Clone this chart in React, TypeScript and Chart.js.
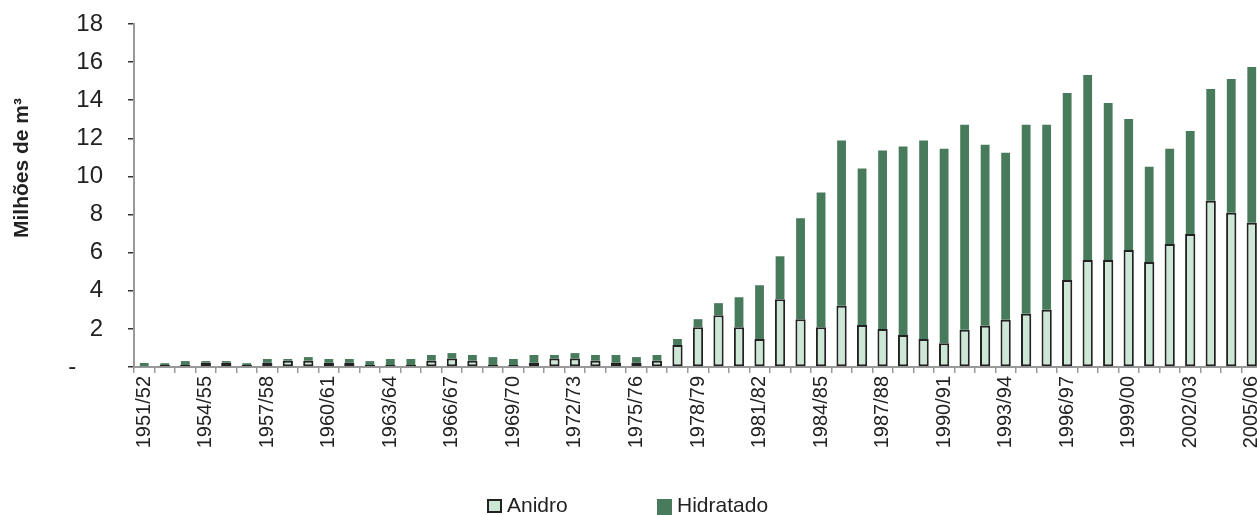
import React, { useEffect, useRef } from 'react';
import { Chart, registerables } from 'chart.js';

Chart.register(...registerables);

const categories = [
  '1951/52', '1952/53', '1953/54', '1954/55', '1955/56', '1956/57', '1957/58', '1958/59', '1959/60', '1960/61',
  '1961/62', '1962/63', '1963/64', '1964/65', '1965/66', '1966/67', '1967/68', '1968/69', '1969/70', '1970/71',
  '1971/72', '1972/73', '1973/74', '1974/75', '1975/76', '1976/77', '1977/78', '1978/79', '1979/80', '1980/81',
  '1981/82', '1982/83', '1983/84', '1984/85', '1985/86', '1986/87', '1987/88', '1988/89', '1989/90', '1990/91',
  '1991/92', '1992/93', '1993/94', '1994/95', '1995/96', '1996/97', '1997/98', '1998/99', '1999/00', '2000/01',
  '2001/02', '2002/03', '2003/04', '2004/05', '2005/06',
];

// Milhões de m³
const anidro = [
  0, 0.1, 0.1, 0.23, 0.22, 0.1, 0.22, 0.33, 0.33, 0.22,
  0.22, 0.1, 0.1, 0.1, 0.33, 0.44, 0.33, 0.1, 0.1, 0.22,
  0.44, 0.44, 0.33, 0.22, 0.22, 0.33, 1.15, 2.09, 2.72, 2.09,
  1.47, 3.56, 2.51, 2.09, 3.21, 2.2, 1.99, 1.68, 1.47, 1.24,
  1.95, 2.16, 2.48, 2.79, 3.0, 4.57, 5.62, 5.62, 6.14, 5.51,
  6.46, 6.98, 8.73, 8.1, 7.57,
];

const hidratado = [
  0.21, 0.1, 0.21, 0.08, 0.09, 0.1, 0.2, 0.09, 0.19, 0.2,
  0.2, 0.21, 0.32, 0.32, 0.3, 0.29, 0.3, 0.42, 0.32, 0.41,
  0.19, 0.29, 0.3, 0.41, 0.3, 0.3, 0.32, 0.42, 0.63, 1.57,
  2.82, 2.25, 5.29, 7.07, 8.67, 8.22, 9.37, 9.89, 10.41, 10.21,
  10.76, 9.5, 8.76, 9.92, 9.71, 9.81, 9.7, 8.24, 6.88, 5.0,
  4.99, 5.41, 5.86, 7.01, 8.17,
];

const seriesNames = ['Anidro', 'Hidratado'];
const yTitle = 'Milhões de m³';
const yMin = 0;
const yMax = 18;
const yStep = 2;
const labelEvery = 3;

const LIGHT = '#cde7d6';
const DARK = '#487a5c';
const FONT = '"Liberation Sans", Arial, Helvetica, sans-serif';

const yTitlePlugin = {
  id: 'yTitleCustom',
  afterDraw(chart: any) {
    const ctx = chart.ctx;
    ctx.save();
    ctx.translate(22, 168);
    ctx.rotate(-Math.PI / 2);
    ctx.font = `bold 21px ${FONT}`;
    ctx.fillStyle = '#222';
    ctx.textAlign = 'center';
    ctx.textBaseline = 'middle';
    ctx.fillText(yTitle, 0, 0);
    ctx.restore();
  },
};

export default function App() {
  const ref = useRef<HTMLCanvasElement | null>(null);

  useEffect(() => {
    document.body.style.margin = '0';
    document.body.style.overflow = 'hidden';
    const canvas = ref.current;
    if (!canvas) return;
    const chart = new Chart(canvas, {
      type: 'bar',
      data: {
        labels: categories,
        datasets: [
          {
            label: seriesNames[0],
            data: anidro,
            backgroundColor: LIGHT,
            borderColor: '#222',
            borderWidth: 2,
            borderSkipped: false,
            barPercentage: 0.5,
            categoryPercentage: 1,
          },
          {
            label: seriesNames[1],
            data: hidratado,
            backgroundColor: DARK,
            borderWidth: 0,
            barPercentage: 0.43,
            categoryPercentage: 1,
          },
        ],
      },
      options: {
        responsive: false,
        animation: false,
        devicePixelRatio: 1,
        layout: { padding: { left: 0, right: 24, top: 24, bottom: 58 } },
        plugins: {
          legend: { display: false },
          tooltip: { enabled: false },
          title: { display: false },
        },
        scales: {
          x: {
            stacked: true,
            afterFit: (s: any) => { s.height = 90; s.paddingTop = 0; s.paddingBottom = 0; },
            grid: {
              offset: true,
              drawOnChartArea: false,
              drawTicks: true,
              tickLength: 6,
              color: '#999',
              lineWidth: 1.5,
            },
            border: { display: true, color: '#999', width: 2 },
            ticks: {
              autoSkip: false,
              maxRotation: 90,
              minRotation: 90,
              padding: 3,
              color: '#222',
              font: { family: FONT, size: 20 },
              callback: (_v: any, i: number) => (i % labelEvery === 0 ? categories[i] : ''),
            },
          },
          y: {
            stacked: true,
            min: yMin,
            max: yMax,
            afterFit: (s: any) => { s.width = 134; s.paddingTop = 0; s.paddingBottom = 0; },
            grid: {
              drawOnChartArea: false,
              drawTicks: true,
              tickLength: 6,
              color: '#333',
              lineWidth: 1.5,
            },
            border: { display: true, color: '#999', width: 2 },
            ticks: {
              stepSize: yStep,
              padding: 25,
              color: '#222',
              font: { family: FONT, size: 24 },
              callback: (v: any) => (Number(v) === 0 ? '-    ' : String(v)),
            },
            title: { display: false },
          },
        },
      },
      plugins: [yTitlePlugin],
    });
    return () => chart.destroy();
  }, []);

  const textStyle: React.CSSProperties = {
    position: 'absolute',
    top: 494,
    fontFamily: FONT,
    fontSize: 21,
    lineHeight: '21px',
    color: '#222',
    whiteSpace: 'nowrap',
  };

  return (
    <div style={{ position: 'fixed', left: 0, top: 0, width: 1257, height: 515, overflow: 'hidden', background: '#fff' }}>
      <canvas ref={ref} width={1286} height={515} style={{ position: 'absolute', left: 0, top: 0, width: 1286, height: 515 }} />
      <div style={{ position: 'absolute', left: 487, top: 499, width: 15, height: 14, boxSizing: 'border-box', background: LIGHT, border: '2px solid #222' }} />
      <span style={{ ...textStyle, left: 507 }}>{seriesNames[0]}</span>
      <div style={{ position: 'absolute', left: 657, top: 499, width: 15, height: 16, background: DARK }} />
      <span style={{ ...textStyle, left: 677 }}>{seriesNames[1]}</span>
    </div>
  );
}
